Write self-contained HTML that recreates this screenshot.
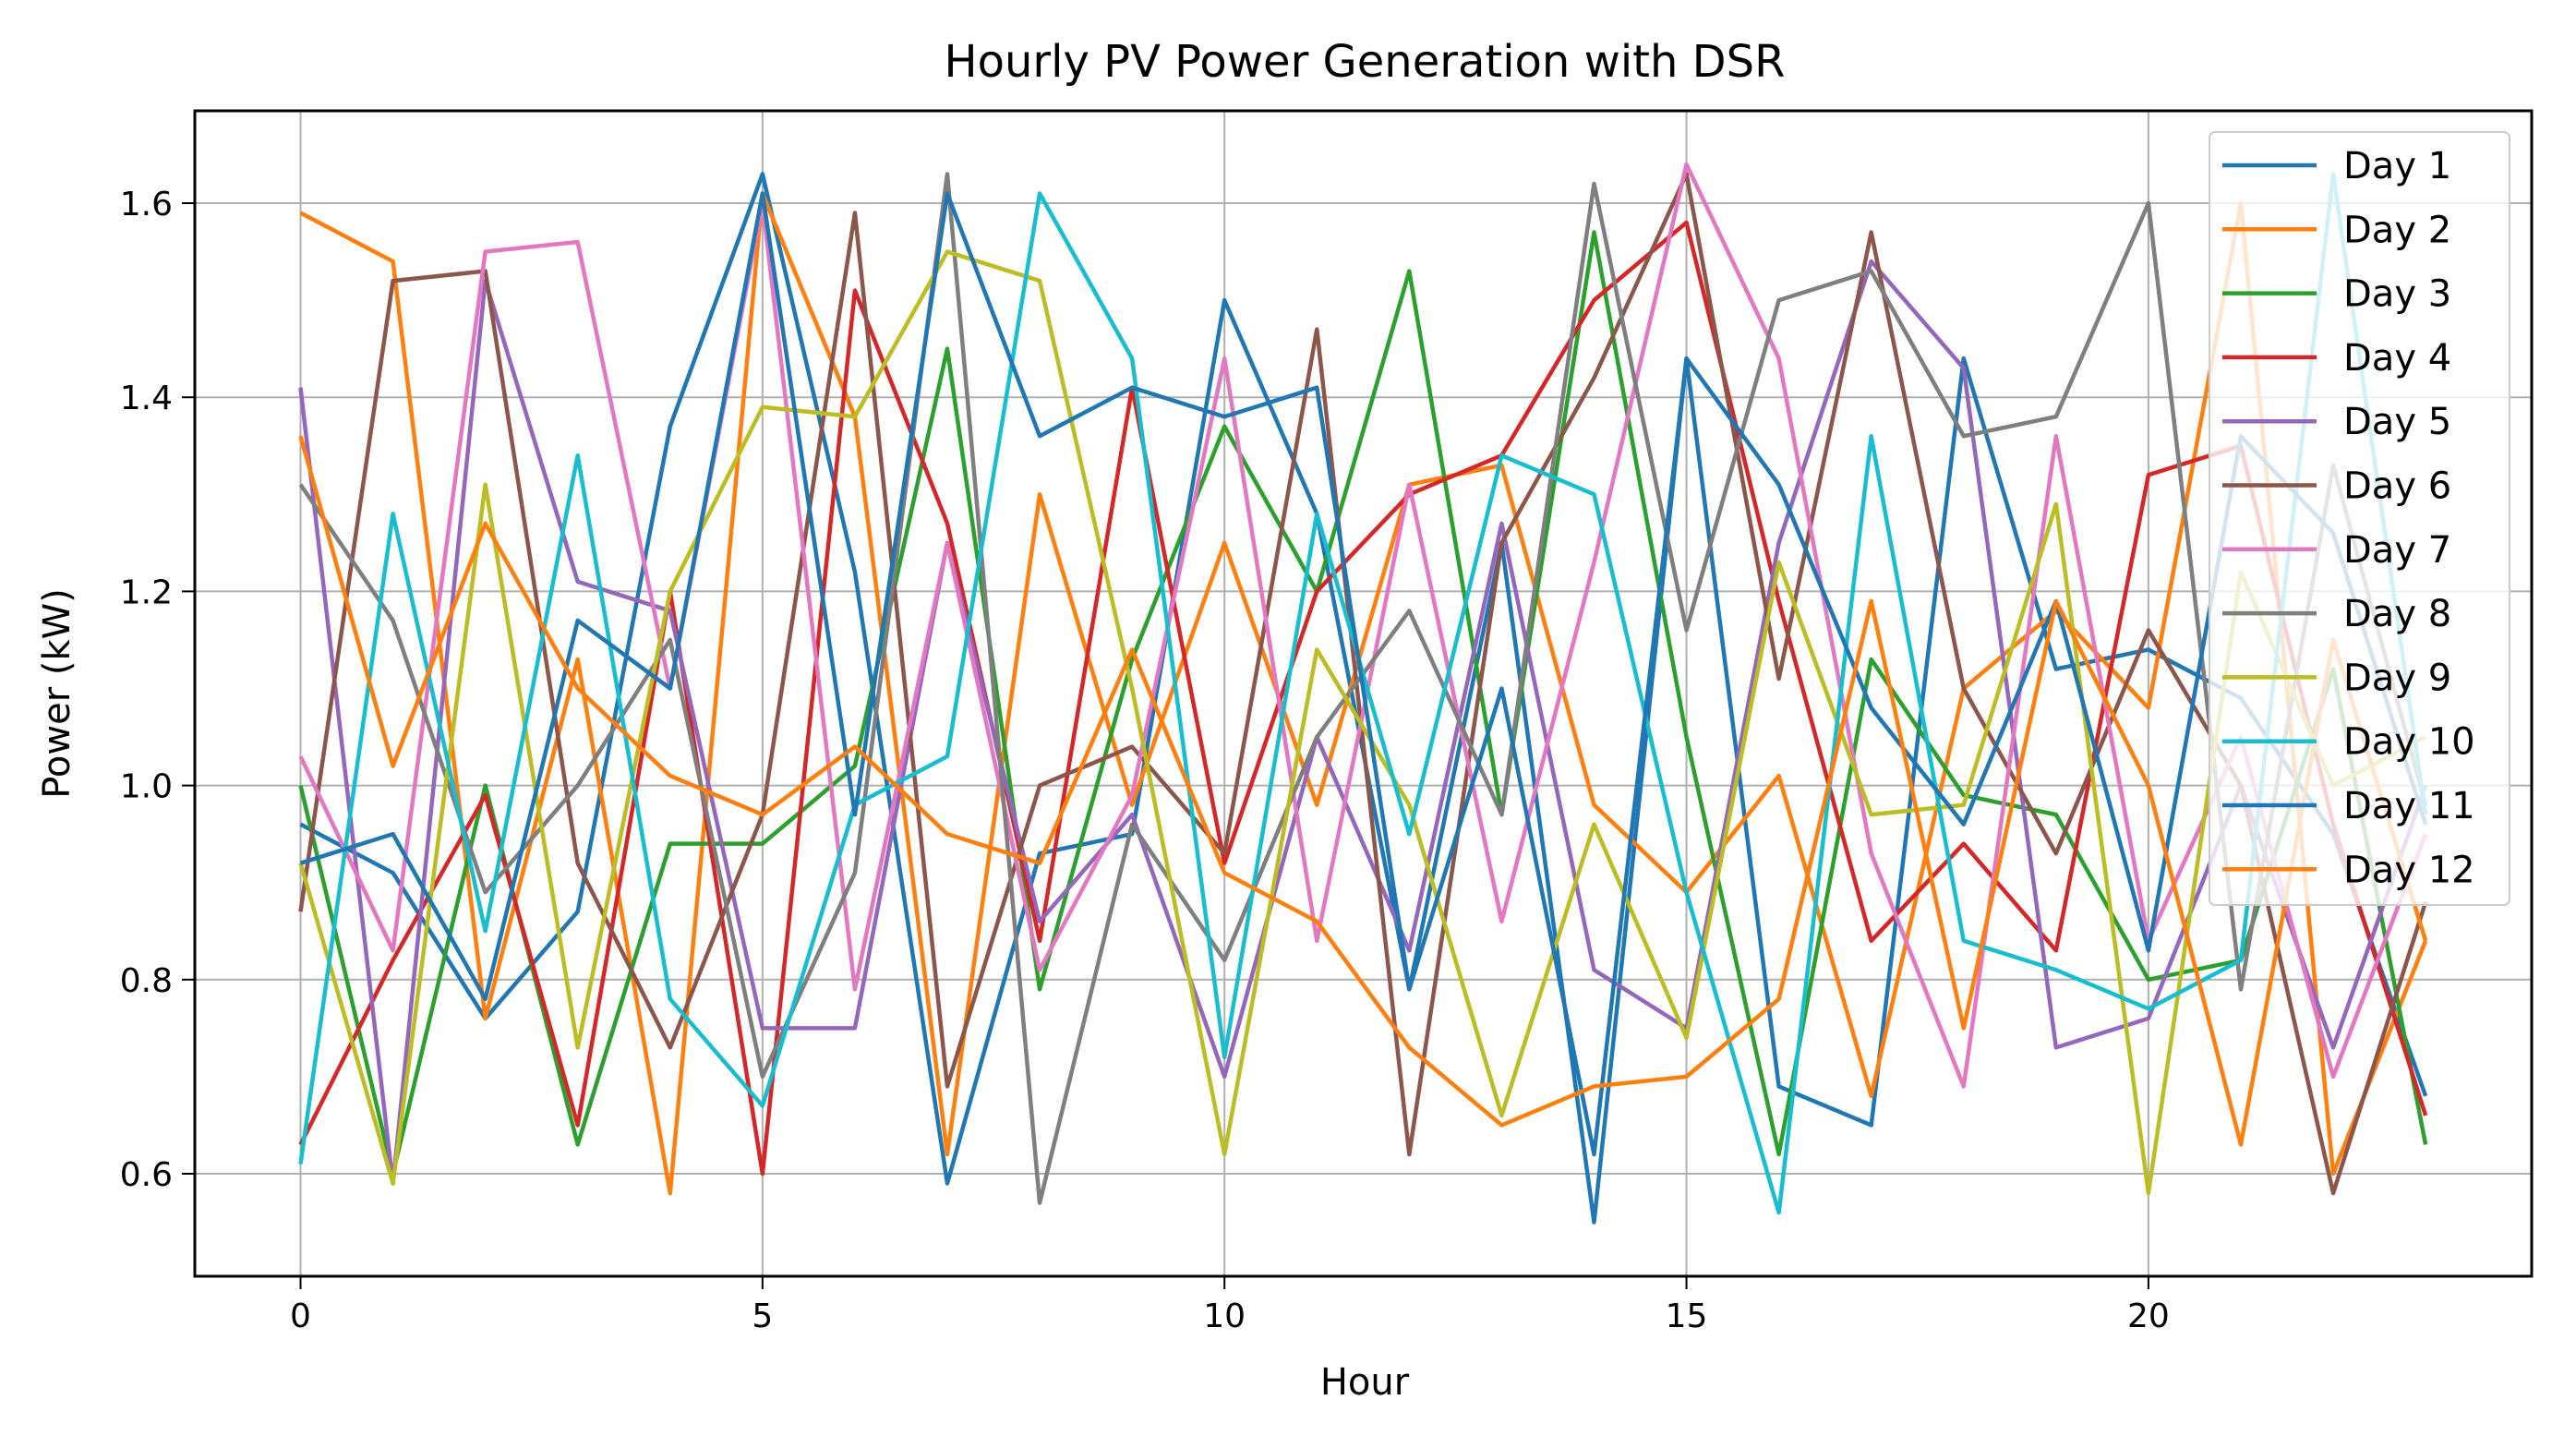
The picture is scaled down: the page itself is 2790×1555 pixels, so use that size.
<!DOCTYPE html>
<html><head><meta charset="utf-8"><style>body{margin:0;background:#fff}svg{display:block;font-family:"DejaVu Sans","Liberation Sans",sans-serif}</style></head>
<body>
<svg id="chart" width="2790" height="1555" viewBox="0 0 2790 1555" xmlns="http://www.w3.org/2000/svg">
<rect width="2790" height="1555" fill="#fff"/>
<text x="1478" y="83" font-size="48" text-anchor="middle">Hourly PV Power Generation with DSR</text>
<g id="grid"></g>
<g id="series"></g>
<rect x="211" y="120" width="2531" height="1262" fill="none" stroke="#000" stroke-width="3"/>
<g id="ticks"></g>
<text x="1478" y="1510" font-size="40" text-anchor="middle">Hour</text>
<text x="75" y="751" font-size="40" text-anchor="middle" transform="rotate(-90 75 751)">Power (kW)</text>
<g id="legend"></g>
</svg>
<script>
const hours = [0,1,2,3,4,5,6,7,8,9,10,11,12,13,14,15,16,17,18,19,20,21,22,23];
const xTicks = [0,5,10,15,20];
const yTicks = [0.6,0.8,1.0,1.2,1.4,1.6];
const seriesNames = ["Day 1","Day 2","Day 3","Day 4","Day 5","Day 6","Day 7","Day 8","Day 9","Day 10","Day 11","Day 12"];
const day1 = [0.96,0.91,0.76,0.87,1.37,1.63,1.22,0.59,0.93,0.95,1.50,1.28,0.79,1.25,0.55,1.44,0.69,0.65,1.44,1.12,1.14,1.09,0.95,0.68];
const day2 = [1.59,1.54,0.76,1.13,0.58,1.61,1.38,0.62,1.30,0.98,1.25,0.98,1.31,1.33,0.98,0.89,1.01,0.68,1.10,1.18,1.08,1.60,0.60,0.84];
const day3 = [1.00,0.60,1.00,0.63,0.94,0.94,1.02,1.45,0.79,1.13,1.37,1.20,1.53,0.97,1.57,1.05,0.62,1.13,0.99,0.97,0.80,0.82,1.12,0.63];
const day4 = [0.63,0.82,0.99,0.65,1.20,0.60,1.51,1.27,0.84,1.41,0.92,1.20,1.30,1.34,1.50,1.58,1.19,0.84,0.94,0.83,1.32,1.35,0.96,0.66];
const day5 = [1.41,0.59,1.52,1.21,1.18,0.75,0.75,1.25,0.86,0.97,0.70,1.05,0.83,1.27,0.81,0.75,1.25,1.54,1.43,0.73,0.76,1.00,0.73,1.00];
const day6 = [0.87,1.52,1.53,0.92,0.73,0.97,1.59,0.69,1.00,1.04,0.93,1.47,0.62,1.25,1.42,1.63,1.11,1.57,1.10,0.93,1.16,1.00,0.58,0.88];
const day7 = [1.03,0.83,1.55,1.56,1.10,1.60,0.79,1.25,0.81,0.99,1.44,0.84,1.31,0.86,1.23,1.64,1.44,0.93,0.69,1.36,0.84,1.05,0.70,0.95];
const day8 = [1.31,1.17,0.89,1.00,1.15,0.70,0.91,1.63,0.57,0.96,0.82,1.05,1.18,0.97,1.62,1.16,1.50,1.53,1.36,1.38,1.60,0.79,1.33,0.98];
const day9 = [0.92,0.59,1.31,0.73,1.20,1.39,1.38,1.55,1.52,1.10,0.62,1.14,0.98,0.66,0.96,0.74,1.23,0.97,0.98,1.29,0.58,1.22,1.00,1.05];
const day10 = [0.61,1.28,0.85,1.34,0.78,0.67,0.98,1.03,1.61,1.44,0.72,1.28,0.95,1.34,1.30,0.89,0.56,1.36,0.84,0.81,0.77,0.82,1.63,0.97];
const day11 = [0.92,0.95,0.78,1.17,1.10,1.61,0.97,1.61,1.36,1.41,1.38,1.41,0.79,1.10,0.62,1.44,1.31,1.08,0.96,1.19,0.83,1.36,1.26,0.96];
const day12 = [1.36,1.02,1.27,1.10,1.01,0.97,1.04,0.95,0.92,1.14,0.91,0.86,0.73,0.65,0.69,0.70,0.78,1.19,0.75,1.19,1.00,0.63,1.15,0.84];
const allSeries = [day1,day2,day3,day4,day5,day6,day7,day8,day9,day10,day11,day12];
const colors = ["#1f77b4","#ff7f0e","#2ca02c","#d62728","#9467bd","#8c564b","#e377c2","#7f7f7f","#bcbd22","#17becf","#1f77b4","#ff7f0e"];
const NS="http://www.w3.org/2000/svg";
const L=211,R=2742,T=120,B=1382;
function xs(v){return 325.5+v*100.07;}
function ys(v){return 1271-(v-0.6)*1051;}
function mk(tag,parent,attrs){const e=document.createElementNS(NS,tag);for(const k in attrs)e.setAttribute(k,attrs[k]);parent.appendChild(e);return e;}
const grid=document.getElementById('grid'),ticks=document.getElementById('ticks');
xTicks.forEach(t=>{const x=xs(t);
 const g=mk('line',grid,{x1:x,x2:x,y1:T,y2:B,stroke:'#b0b0b0','stroke-width':2});
 
 
 const tk=mk('line',ticks,{x1:x,x2:x,y1:B,y2:B+14,stroke:'#000','stroke-width':2});
 
 
 const tx=mk('text',ticks,{x:x,y:B+55,'font-size':36,'text-anchor':'middle'});tx.textContent=t;
 
 
});
yTicks.forEach(t=>{const y=ys(t);
 const g=mk('line',grid,{x1:L,x2:R,y1:y,y2:y,stroke:'#b0b0b0','stroke-width':2});
 
 
 const tk=mk('line',ticks,{x1:L-14,x2:L,y1:y,y2:y,stroke:'#000','stroke-width':2});
 
 
 const tx=mk('text',ticks,{x:L-24,y:y+13,'font-size':36,'text-anchor':'end'});tx.textContent=t.toFixed(1);
 
 
});
const sg=document.getElementById('series');
allSeries.forEach((s,i)=>{
 const p=mk('polyline',sg,{points:s.map((v,j)=>xs(hours[j])+','+ys(v)).join(' '),fill:'none',stroke:colors[i],'stroke-width':4.5,'stroke-linejoin':'round'});
 
 
});
const lg=document.getElementById('legend');
const box=mk('rect',lg,{x:2393,y:143,width:325,height:837,rx:6,fill:'#fff','fill-opacity':0.8,stroke:'#ccc','stroke-width':2});


seriesNames.forEach((n,i)=>{const y=179+i*69.3;
 const ln=mk('line',lg,{x1:2407,x2:2509,y1:y,y2:y,stroke:colors[i],'stroke-width':4.5});
 
 
 const tx=mk('text',lg,{x:2538,y:y+14,'font-size':40});tx.textContent=n;
 
 
});
</script>
</body></html>
